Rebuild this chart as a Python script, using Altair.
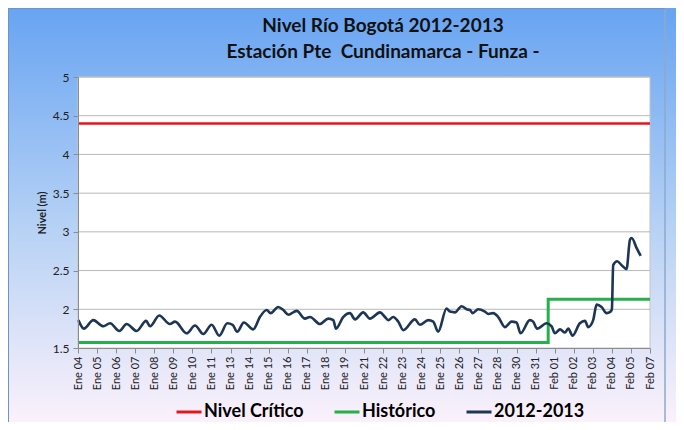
import altair as alt
import pandas as pd

labels = ['Ene 04', 'Ene 05', 'Ene 06', 'Ene 07', 'Ene 08', 'Ene 09', 'Ene 10', 'Ene 11',
          'Ene 13', 'Ene 14', 'Ene 15', 'Ene 16', 'Ene 17', 'Ene 18', 'Ene 19', 'Ene 21',
          'Ene 22', 'Ene 23', 'Ene 24', 'Ene 25', 'Ene 26', 'Ene 27', 'Ene 28', 'Ene 30',
          'Ene 31', 'Feb 01', 'Feb 02', 'Feb 03', 'Feb 04', 'Feb 05', 'Feb 07']

blue_t = [0.02, 0.31, 0.80, 1.33, 1.68, 2.17, 2.55, 3.08, 3.57, 3.78, 4.26, 4.82, 5.09,
          5.70, 6.14, 6.57, 7.01, 7.41, 7.83, 8.11, 8.35, 8.70, 9.19, 9.54, 9.90, 10.10,
          10.50, 10.77, 11.03, 11.47, 11.90, 12.17, 12.69, 13.13, 13.39, 13.53, 13.91,
          14.26, 14.53, 14.96, 15.31, 15.84, 16.10, 16.27, 16.53, 16.80, 17.06, 17.67,
          17.93, 18.37, 18.63, 18.89, 19.33, 19.51, 19.77, 20.12, 20.38, 20.56, 20.70,
          20.99, 21.34, 21.52, 21.78, 22.04, 22.39, 22.74, 23.00, 23.21, 23.70, 23.87,
          24.08, 24.58, 24.84, 25.01, 25.28, 25.54, 25.71, 25.94, 26.32, 26.59, 26.76,
          27.02, 27.20, 27.46, 27.72, 27.93, 28.00, 28.07, 28.28, 28.51, 28.77, 28.95,
          29.04, 29.30, 29.51]
blue_v = [1.86, 1.75, 1.86, 1.78, 1.82, 1.72, 1.81, 1.72, 1.85, 1.78, 1.92, 1.81, 1.84,
          1.69, 1.79, 1.68, 1.80, 1.66, 1.82, 1.80, 1.71, 1.83, 1.74, 1.90, 1.99, 1.95,
          2.03, 1.99, 1.93, 1.98, 1.88, 1.90, 1.81, 1.88, 1.86, 1.75, 1.90,
          1.95, 1.87, 1.96, 1.88, 1.96, 1.90, 1.86, 1.90, 1.84, 1.73, 1.87,
          1.80, 1.86, 1.84, 1.71, 2.01, 1.97, 1.96, 2.04, 2.00, 1.99, 1.95,
          2.00, 1.97, 1.94, 1.95, 1.90, 1.77, 1.84, 1.83, 1.69, 1.86, 1.84,
          1.75, 1.82, 1.78, 1.69, 1.74, 1.70, 1.75, 1.66, 1.82, 1.85, 1.77,
          1.86, 2.06, 2.03, 1.95, 1.97, 2.00, 2.57, 2.62, 2.57, 2.52, 2.90,
          2.92, 2.79, 2.69]

hist_t = [0, 24.66, 30]
hist_v = [1.57, 2.13, 2.13]
crit_t = [0, 30]
crit_v = [4.4, 4.4]
grid_v = [2.0, 2.5, 3.0, 3.5, 4.0, 4.5, 5.0]
y_ticks = [1.5, 2.0, 2.5, 3.0, 3.5, 4.0, 4.5, 5.0]

series = ['Nivel Crítico', 'Histórico', '2012-2013']
colors = ['#e3161d', '#25b04d', '#1d3656']
title_lines = ['Nivel Río Bogotá 2012-2013', 'Estación Pte\u00a0 Cundinamarca - Funza -']

W, H = 572, 271
PAD = {"left": 70, "top": 69, "right": 26, "bottom": 74}
FONT = 'Lato'

one = pd.DataFrame({'a': [0]})
blue_df = pd.DataFrame({'t': blue_t, 'v': blue_v, 'serie': series[2]})
hist_df = pd.DataFrame({'t': hist_t, 'v': hist_v, 'serie': series[1]})
crit_df = pd.DataFrame({'t': crit_t, 'v': crit_v, 'serie': series[0]})
grid_df = pd.DataFrame({'v': grid_v})

label_js = "[" + ",".join("'" + s + "'" for s in labels) + "][datum.value]"

xenc = alt.X('t:Q', scale=alt.Scale(domain=[0, 30], nice=False, zero=False),
             axis=alt.Axis(values=list(range(len(labels))), labelExpr=label_js, labelAngle=270,
                           labelAlign='right', labelBaseline='middle', labelFontSize=11,
                           labelColor='#222222', tickSize=5, labelPadding=3, title=None,
                           labelOverlap=False, labelFlush=False, zindex=1, grid=False,
                           labelFont=FONT, domainColor='#8c8c8c', tickColor='#8c8c8c'))
yenc = alt.Y('v:Q', scale=alt.Scale(domain=[1.5, 5], nice=False, zero=False),
             axis=alt.Axis(values=y_ticks, format='.1~f', title='Nivel (m)', titleFontSize=11,
                           titleFontWeight='bold', titleColor='#222222', titleX=-36, titleY=H / 2,
                           titleAngle=270, titleAlign='center', titleBaseline='middle',
                           labelFontSize=12, labelColor='#222222', labelPadding=4, tickSize=5,
                           zindex=1, grid=False, labelFont=FONT, titleFont=FONT,
                           domainColor='#8c8c8c', tickColor='#8c8c8c'))
cenc = alt.Color('serie:N', scale=alt.Scale(domain=series, range=colors),
                 legend=alt.Legend(title=None, orient='none', legendX=97, legendY=321,
                                   direction='horizontal', columns=3, symbolType='stroke',
                                   symbolSize=625, symbolStrokeWidth=3, labelFont=FONT,
                                   labelFontSize=18, labelFontWeight='bold', labelColor='black',
                                   columnPadding=24, labelOffset=1, padding=0, zindex=1))

grad = alt.LinearGradient(gradient='linear',
                          stops=[alt.GradientStop(color='#68a4f2', offset=0),
                                 alt.GradientStop(color='#b9d3f5', offset=0.55),
                                 alt.GradientStop(color='#fbf1fb', offset=1)],
                          x1=0, x2=0, y1=0, y2=1)

bg = alt.Chart(one).mark_rect(fill=grad).encode(
    x=alt.value(-PAD['left']), x2=alt.value(W + PAD['right']),
    y=alt.value(-PAD['top']), y2=alt.value(H + PAD['bottom']))
frame_r = alt.Chart(one).mark_rule(color='#8ea8cc', strokeWidth=1.5).encode(
    x=alt.value(587), y=alt.value(-PAD['top']), y2=alt.value(H + PAD['bottom']))
frame_l = alt.Chart(one).mark_rule(color='#6f93c4', strokeWidth=1).encode(
    x=alt.value(-PAD['left'] + 0.5), y=alt.value(-PAD['top']), y2=alt.value(H + PAD['bottom']))
frame_t = alt.Chart(one).mark_rule(color='#6f93c4', strokeWidth=1).encode(
    x=alt.value(-PAD['left']), x2=alt.value(587), y=alt.value(-PAD['top'] + 0.5))
plotbg = alt.Chart(one).mark_rect(fill='white', stroke='#c4c4c4', strokeWidth=1).encode(
    x=alt.value(0), x2=alt.value(W), y=alt.value(0), y2=alt.value(H))
grid = alt.Chart(grid_df).mark_rule(color='#b8b8b8', strokeWidth=1).encode(y=yenc)

t1 = alt.Chart(one).mark_text(text=title_lines[0], font=FONT, fontSize=19, fontWeight='bold',
                              color='#111111', align='center', baseline='middle').encode(
    x=alt.value(W / 2 + 19), y=alt.value(-51))
t2 = alt.Chart(one).mark_text(text=title_lines[1], font=FONT, fontSize=19, fontWeight='bold',
                              color='#111111', align='center', baseline='middle').encode(
    x=alt.value(W / 2 + 19), y=alt.value(-25))

crit = alt.Chart(crit_df).mark_line(strokeWidth=2.5).encode(x=xenc, y=yenc, color=cenc)
hist = alt.Chart(hist_df).mark_line(strokeWidth=3, interpolate='step-after').encode(
    x=xenc, y=yenc, color=cenc)
blue = alt.Chart(blue_df).mark_line(strokeWidth=2.6, interpolate='monotone').encode(
    x=xenc, y=yenc, color=cenc)

chart = alt.layer(bg, frame_r, frame_l, frame_t, plotbg, grid, t1, t2, crit, hist, blue).properties(
    width=W, height=H,
    autosize=alt.AutoSizeParams(type='none'),
    padding=PAD
).configure_view(strokeWidth=0).configure(background='white')

chart.save("out.html", embed_options={"renderer": "svg", "actions": False})
